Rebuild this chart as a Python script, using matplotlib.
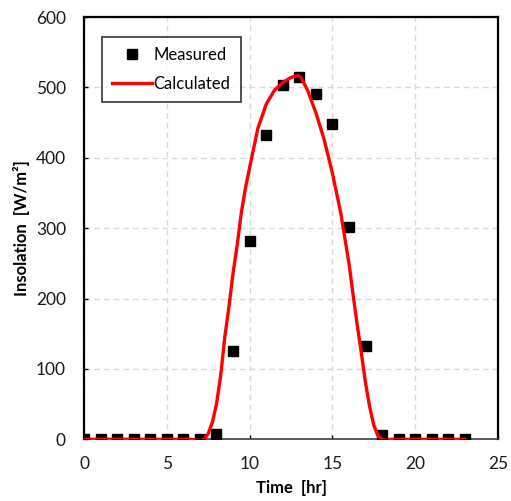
import matplotlib
matplotlib.use("Agg")
import matplotlib.pyplot as plt

# Measured hourly insolation
meas_time = list(range(0, 24))
meas_vals = [0, 0, 0, 0, 0, 0, 0, 0, 7, 126, 282, 432, 504, 515, 491, 448, 302, 132, 6, 0, 0, 0, 0, 0]

# Calculated curve
calc_time = [0, 6.5, 7.0, 7.25, 7.5, 7.75, 8.0, 8.25, 8.5, 8.75, 9.0, 9.25, 9.5, 9.75, 10.0,
             10.5, 11.0, 11.5, 12.0, 12.5, 12.9, 13.1, 13.5, 14.0, 14.5, 15.0, 15.5, 16.0,
             16.25, 16.5, 16.75, 17.0, 17.25, 17.5, 17.75, 18.0, 18.25, 18.5, 23]
calc_vals = [0, 0, -2, 0, 8, 24, 50, 90, 145, 188, 236, 276, 322, 357, 386,
             442, 476, 496, 507, 514, 517, 514, 496, 464, 426, 378, 322, 250,
             205, 162, 122, 80, 46, 20, 5, 0, -2, 0, 0]

xticks = [0, 5, 10, 15, 20, 25]
yticks = [0, 100, 200, 300, 400, 500, 600]

plt.rcParams['font.family'] = ['Lato', 'DejaVu Sans']

fig = plt.figure(figsize=(5.11, 5.01), dpi=100)
ax = fig.add_axes([0.1644, 0.1232, 0.8102, 0.8428])

ax.plot(meas_time, meas_vals, linestyle='none', marker='s', markersize=7.6,
        color='black', label='Measured', zorder=3)
ax.plot(calc_time, calc_vals, color='#ff0000', linewidth=2.4, label='Calculated', zorder=4)

ax.set_xlim(0, 25)
ax.set_ylim(0, 600)
ax.set_xticks(xticks)
ax.set_yticks(yticks)
ax.tick_params(axis='both', direction='in', length=3, width=1, labelsize=12.5,
               labelcolor='#1a1a1a')
ax.tick_params(axis='y', pad=13)
ax.tick_params(axis='x', pad=12)
ax.grid(True, color='#d9d9d9', linestyle=(0, (4, 3)), linewidth=1)
ax.set_axisbelow(True)
for s in ax.spines.values():
    s.set_linewidth(1.6)
    s.set_color('black')
ax.spines['bottom'].set_color('#404040')
ax.spines['bottom'].set_linewidth(1.2)

ax.set_xlabel('Time  [hr]', fontsize=12, fontweight='bold', labelpad=6)
ax.set_ylabel('Insolation  [W/m²]', fontsize=12, fontweight='bold', labelpad=4)

leg = ax.legend(loc='upper left', bbox_to_anchor=(0.0435, 0.9527), borderaxespad=0,
                fontsize=12, frameon=True, fancybox=False, edgecolor='black',
                handlelength=2.4, handletextpad=0.1, borderpad=0.6, labelspacing=0.75)
leg.get_frame().set_linewidth(1.2)

fig.savefig('out.png', dpi=100)
